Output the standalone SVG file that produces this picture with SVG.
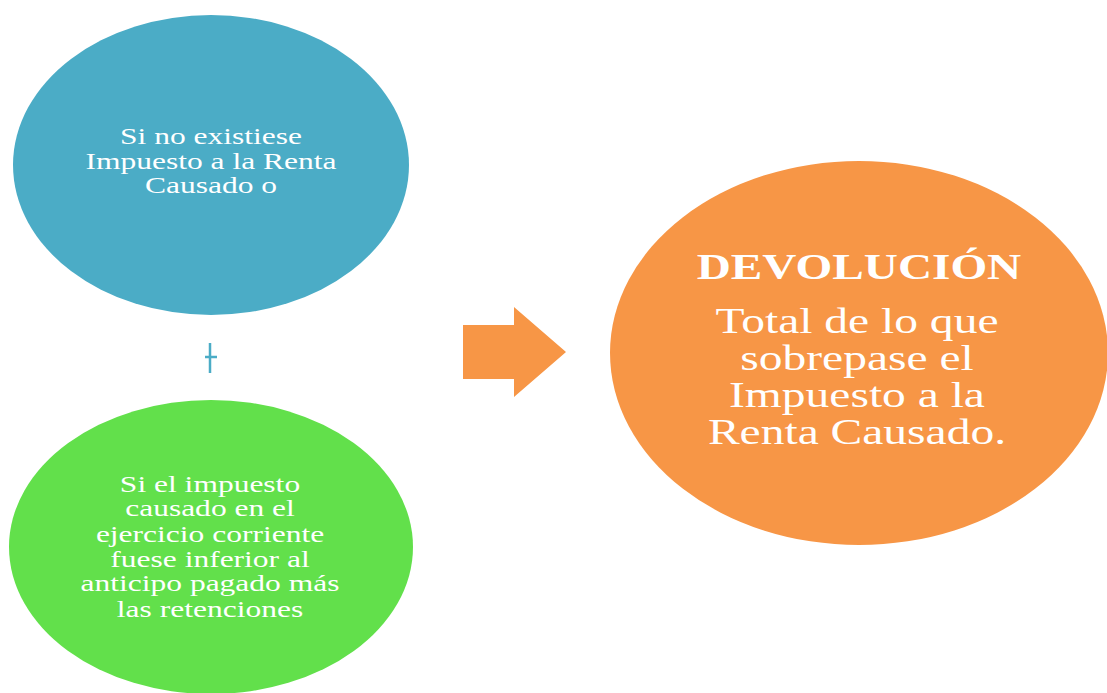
<svg xmlns="http://www.w3.org/2000/svg" width="1107" height="693" viewBox="0 0 1107 693">
<style>
.t{font-family:"Liberation Serif","Times New Roman",serif;fill:#fff;text-anchor:middle}
.s{font-size:23px}
.l{font-size:36px}
.b{font-size:35px;font-weight:bold}
</style>
<rect width="1107" height="693" fill="#fff"/>
<g id="node-blue">
<ellipse cx="211" cy="165" rx="198" ry="150" fill="#4BACC6"/>
<g transform="translate(211,0) scale(1.37,1)">
<text class="t s" x="0" y="144">Si no existiese</text>
<text class="t s" x="0" y="169">Impuesto a la Renta</text>
<text class="t s" x="0" y="193">Causado o</text>
</g>
</g>
<g id="node-plus">
<path d="M210 343V373M205 357H217" stroke="#4BACC6" stroke-width="2.5" fill="none"/>
</g>
<g id="node-green">
<ellipse cx="211" cy="547" rx="202" ry="147" fill="#62E04B"/>
<g transform="translate(210,0) scale(1.37,1)">
<text class="t s" x="0" y="492">Si el impuesto</text>
<text class="t s" x="0" y="516">causado en el</text>
<text class="t s" x="0" y="542">ejercicio corriente</text>
<text class="t s" x="0" y="567">fuese inferior al</text>
<text class="t s" x="0" y="591">anticipo pagado más</text>
<text class="t s" x="0" y="617">las retenciones</text>
</g>
</g>
<g id="connectors">
<polygon points="463,325 514,325 514,307 566,352 514,397 514,379 463,379" fill="#F79646"/>
</g>
<g id="node-orange">
<ellipse cx="859" cy="353" rx="249" ry="192" fill="#F79646"/>
<g transform="translate(859,0) scale(1.35,1)">
<text class="t b" x="0" y="279">DEVOLUCIÓN</text>
</g>
<g transform="translate(857,0) scale(1.32,1)">
<text class="t l" x="0" y="333">Total de lo que</text>
<text class="t l" x="0" y="370">sobrepase el</text>
<text class="t l" x="0" y="407">Impuesto a la</text>
<text class="t l" x="0" y="444">Renta Causado.</text>
</g>
</g>
</svg>
